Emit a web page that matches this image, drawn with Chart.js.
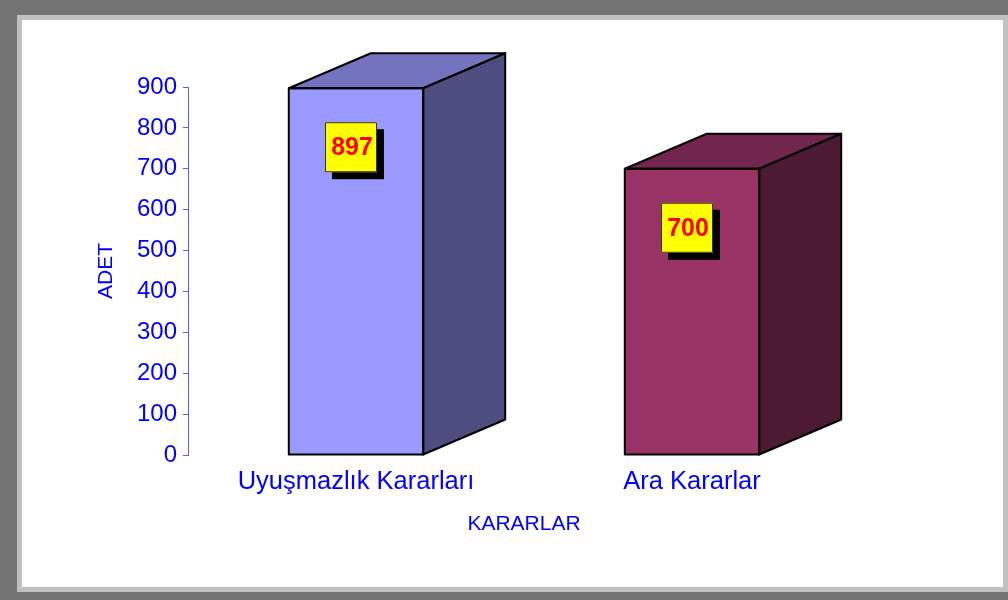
<!DOCTYPE html>
<html>
<head>
<meta charset="utf-8">
<script src="https://cdn.jsdelivr.net/npm/chart.js@4"></script>
<style>
html,body{margin:0;padding:0;background:#737373;}
#wrap{position:absolute;left:0;top:0;width:1008px;height:600px;}
</style>
</head>
<body>
<div id="wrap"><canvas id="c" width="1008" height="600"></canvas></div>
<script>
const categories = ["Uyuşmazlık Kararları", "Ara Kararlar"];
const values = [897, 700];
const yTicks = [0, 100, 200, 300, 400, 500, 600, 700, 800, 900];
const yTitle = "ADET";
const xTitle = "KARARLAR";

const frontColors = ["#9999ff", "#993366"];
const topColors = ["#7373bf", "#73264d"];
const sideColors = ["#4d4d80", "#4d1a33"];

const FONT = "'Liberation Sans', Arial, sans-serif";

const framePlugin = {
  id: 'frame',
  beforeDraw(chart) {
    const ctx = chart.ctx;
    ctx.save();
    ctx.fillStyle = '#737373';
    ctx.fillRect(0, 0, 1008, 600);
    ctx.fillStyle = '#c0c0c0';
    ctx.fillRect(17, 15, 1008 - 17, 592 - 15);
    ctx.fillStyle = '#ffffff';
    ctx.fillRect(22, 20, 1003 - 22, 587 - 20);
    ctx.restore();
  }
};

const DX = 82, DY = -35;
const cubePlugin = {
  id: 'cube',
  afterDatasetsDraw(chart) {
    const ctx = chart.ctx;
    const meta = chart.getDatasetMeta(0);
    ctx.save();
    ctx.lineWidth = 2;
    ctx.strokeStyle = '#000';
    ctx.lineJoin = 'round';
    meta.data.forEach((bar, i) => {
      const p = bar.getProps(['x', 'y', 'base', 'width'], true);
      const l = p.x - p.width / 2, r = p.x + p.width / 2, t = p.y, b = p.base;
      // top face
      ctx.beginPath();
      ctx.moveTo(l, t); ctx.lineTo(l + DX, t + DY); ctx.lineTo(r + DX, t + DY); ctx.lineTo(r, t); ctx.closePath();
      ctx.fillStyle = topColors[i]; ctx.fill(); ctx.stroke();
      // side face
      ctx.beginPath();
      ctx.moveTo(r, t); ctx.lineTo(r + DX, t + DY); ctx.lineTo(r + DX, b + DY); ctx.lineTo(r, b); ctx.closePath();
      ctx.fillStyle = sideColors[i]; ctx.fill(); ctx.stroke();
      // front outline
      ctx.strokeRect(l, t, r - l, b - t);
      // value label box
      const cx = p.x - 5, cy = t + 59, bw = 52, bh = 50;
      ctx.fillStyle = '#000';
      ctx.fillRect(cx - bw / 2 + 7, cy - bh / 2 + 7, bw, bh);
      ctx.fillStyle = '#ffff00';
      ctx.fillRect(cx - bw / 2, cy - bh / 2, bw, bh);
      ctx.lineWidth = 1;
      ctx.strokeStyle = '#333';
      ctx.strokeRect(cx - bw / 2 + 0.5, cy - bh / 2 + 0.5, bw - 1, bh - 1);
      ctx.lineWidth = 2;
      ctx.strokeStyle = '#000';
      ctx.fillStyle = '#ff0000';
      ctx.font = "bold 25px " + FONT;
      ctx.textAlign = 'center';
      ctx.textBaseline = 'middle';
      ctx.fillText(String(values[i]), cx + 1, cy + 1);
    });
    ctx.restore();
  }
};

new Chart(document.getElementById('c'), {
  type: 'bar',
  data: {
    labels: categories,
    datasets: [{
      data: values,
      backgroundColor: frontColors,
      borderColor: '#000',
      borderWidth: 0,
      borderSkipped: false,
      categoryPercentage: 1,
      barPercentage: 0.4
    }]
  },
  options: {
    responsive: false,
    animation: false,
    events: [],
    plugins: { legend: { display: false }, tooltip: { enabled: false } },
    layout: { padding: { left: 22, top: 87, right: 148, bottom: 13 } },
    scales: {
      x: {
        offset: true,
        grid: { display: false, drawTicks: false },
        border: { display: false },
        ticks: { color: '#0000ff', font: { family: FONT, size: 25.5 }, padding: 12, maxRotation: 0, autoSkip: false },
        title: { display: true, text: xTitle, color: '#0000ff', font: { family: FONT, size: 21 }, padding: { top: 0, bottom: 50 } },
        afterFit(s) { s.height = 132; }
      },
      y: {
        min: 0, max: 900,
        afterBuildTicks(s) { s.ticks = yTicks.map(v => ({ value: v })); },
        grid: { drawOnChartArea: false, drawTicks: true, tickLength: 5, color: '#5b5bff', lineWidth: 1 },
        border: { display: true, color: '#5b5bff', width: 1 },
        ticks: { color: '#0000ff', font: { family: FONT, size: 24 }, padding: 6 },
        title: { display: true, text: yTitle, color: '#0000ff', font: { family: FONT, size: 21 }, padding: { top: 72, bottom: 0 } },
        afterFit(s) { s.width = 166; }
      }
    }
  },
  plugins: [framePlugin, cubePlugin]
});
</script>
</body>
</html>
